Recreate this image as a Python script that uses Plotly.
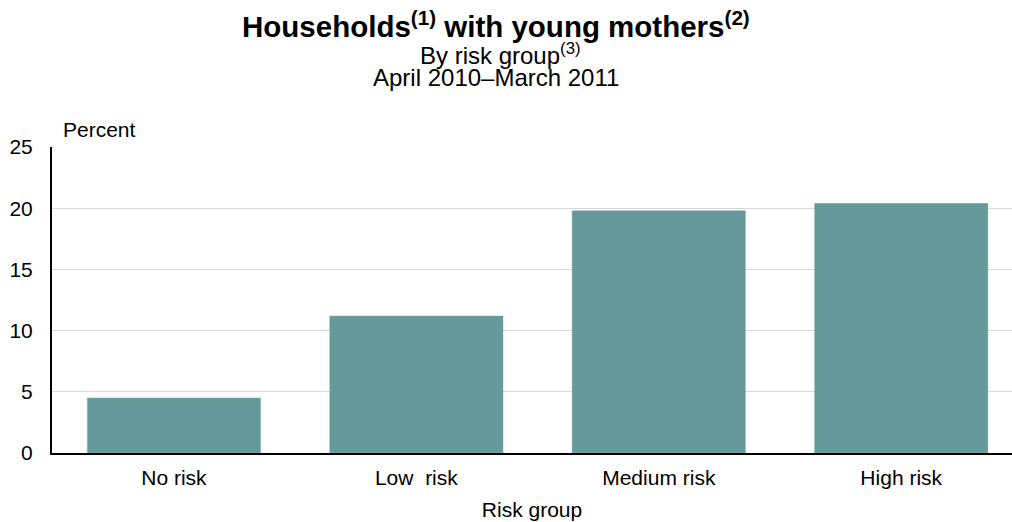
import plotly.graph_objects as go

categories = ["No risk", "Low  risk", "Medium risk", "High risk"]
values = [4.5, 11.2, 19.8, 20.4]
y_ticks = [0, 5, 10, 15, 20, 25]

FONT = "Liberation Sans, Arial, sans-serif"
W, H = 1012, 522
L, R, T, B = 52, 0, 147, 69

fig = go.Figure(go.Bar(
    x=categories, y=values, width=0.715,
    marker=dict(color="#669999", line=dict(color="#8fb3b3", width=0.5)),
    hoverinfo="x+y",
))

plot_h = H - T - B
plot_w = W - L - R


def py(pix):
    return (H - B - pix) / plot_h


def px(pix):
    return (pix - L) / plot_w


fig.update_layout(
    width=W, height=H,
    margin=dict(l=L, r=R, t=T, b=B, autoexpand=False),
    plot_bgcolor="white", paper_bgcolor="white",
    showlegend=False,
    font=dict(family=FONT, size=21, color="black"),
    xaxis=dict(
        type="category", range=[-0.503, 3.457],
        showline=True, linecolor="black", linewidth=2,
        showgrid=False, ticks="", tickfont=dict(size=21),
        ticklabelstandoff=5,
        title=dict(text="Risk group", font=dict(size=21), standoff=14),
    ),
    yaxis=dict(
        range=[0, 25], tickvals=y_ticks, showline=True, linecolor="black",
        linewidth=2, showgrid=True, gridcolor="#d9d9d9", gridwidth=1,
        ticks="", tickfont=dict(size=21), zeroline=False, ticklabelstandoff=13,
    ),
    annotations=[
        dict(text="<b>Households<sup>(1)</sup> with young mothers<sup>(2)</sup></b>",
             x=px(496), xref="paper", y=py(24), yref="paper", showarrow=False,
             font=dict(size=29.5), xanchor="center", yanchor="middle"),
        dict(text="By risk group<sup>(3)</sup>",
             x=px(500), xref="paper", y=py(54), yref="paper", showarrow=False,
             font=dict(size=24), xanchor="center", yanchor="middle"),
        dict(text="April 2010\u2013March 2011",
             x=px(496), xref="paper", y=py(78), yref="paper", showarrow=False,
             font=dict(size=24), xanchor="center", yanchor="middle"),
        dict(text="Percent",
             x=px(61), xref="paper", y=py(129), yref="paper", showarrow=False,
             font=dict(size=21), xanchor="left", yanchor="middle"),
    ],
)

fig.write_html(
    "out.html",
    config=dict(displayModeBar=False),
    post_script="document.body.style.margin='0';document.body.style.overflow='hidden';",
)
